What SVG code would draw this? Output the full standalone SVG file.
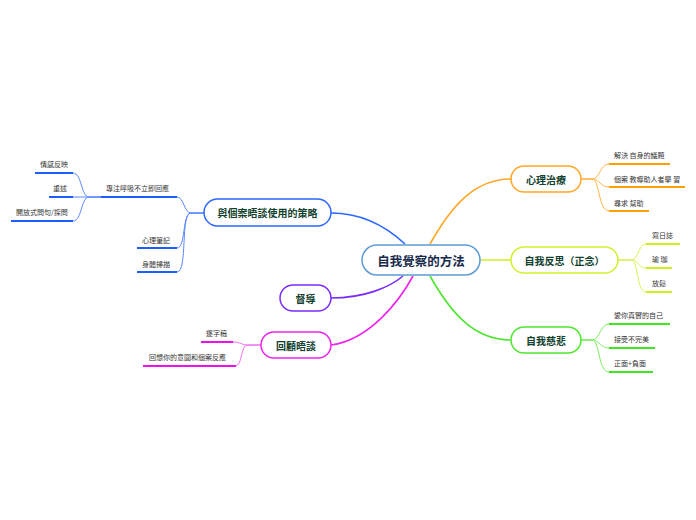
<svg xmlns="http://www.w3.org/2000/svg" width="696" height="520" viewBox="0 0 696 520">
<style>
.n{fill:#fff;stroke-width:1.5}
.t{font-family:"Noto Sans CJK TC","Noto Sans CJK SC",sans-serif;font-size:10px;font-weight:bold;fill:#123f2e;text-anchor:middle;dominant-baseline:central}
.c{font-family:"Noto Sans CJK TC","Noto Sans CJK SC",sans-serif;font-size:7px;fill:#333;dominant-baseline:central}
.m{fill:none;stroke-width:1.6}
.b{fill:none;stroke-width:1}
.u{stroke-width:2}
</style>
<rect width="696" height="520" fill="#fff"/>
<g id="connectors">
  <!-- main -->
  <path class="m" stroke="#ffa726" d="M430,244 C452,205 475,179 511,179"/>
  <path class="m" stroke="#d4f02c" d="M480,260 L511,260"/>
  <path class="m" stroke="#4ce62e" d="M430,276 C452,315 475,340 511,340"/>
  <path class="m" stroke="#2a66ff" d="M331,213 C365,213 390,230 405,244"/>
  <path class="m" stroke="#7a2bff" d="M331,298 C365,298 390,287 403,276"/>
  <path class="m" stroke="#ee22ee" d="M331,345 C370,340 400,300 413,276"/>
  <!-- 心理治療 branches -->
  <g stroke="#ffb54d">
    <path class="b" d="M581,179 L592,179 C600,179 600,164 609,164"/>
    <path class="b" d="M581,179 L592,179 C600,179 600,187 609,187"/>
    <path class="b" d="M581,179 L592,179 C600,179 598,211 609,211"/>
  </g>
  <g stroke="#ffa000" class="u">
    <line x1="609" y1="164" x2="670" y2="164"/>
    <line x1="609" y1="187" x2="685" y2="187"/>
    <line x1="609" y1="211" x2="649" y2="211"/>
  </g>
  <!-- 自我反思 branches -->
  <g stroke="#dcf25a">
    <path class="b" d="M618,260 L631,260 C639,260 638,244 646,244"/>
    <path class="b" d="M618,260 L631,260 C639,260 638,268 646,268"/>
    <path class="b" d="M618,260 L631,260 C639,260 636,292 646,292"/>
  </g>
  <g stroke="#d0ee20" class="u">
    <line x1="646" y1="244" x2="680" y2="244"/>
    <line x1="646" y1="268" x2="672" y2="268"/>
    <line x1="646" y1="292" x2="672" y2="292"/>
  </g>
  <!-- 自我慈悲 branches -->
  <g stroke="#7cf060">
    <path class="b" d="M581,340 L592,340 C600,340 600,324 609,324"/>
    <path class="b" d="M581,340 L592,340 C600,340 600,348 609,348"/>
    <path class="b" d="M581,340 L592,340 C600,340 598,372 609,372"/>
  </g>
  <g stroke="#3ee620" class="u">
    <line x1="609" y1="324" x2="670" y2="324"/>
    <line x1="609" y1="348" x2="655" y2="348"/>
    <line x1="609" y1="372" x2="653" y2="372"/>
  </g>
  <!-- 策略 branches -->
  <g stroke="#5a88ff">
    <path class="b" d="M204,213 L191,213 C184,213 184,197 177,197"/>
    <path class="b" d="M204,213 L191,213 C182,213 186,248 177,248"/>
    <path class="b" d="M204,213 L191,213 C180,213 188,272 177,272"/>
    <path class="b" d="M101,197 L89,197 C81,197 82,173 73,173"/>
    <path class="b" d="M101,197 L73,197"/>
    <path class="b" d="M101,197 L89,197 C81,197 82,221 73,221"/>
  </g>
  <g stroke="#1f5cff" class="u">
    <line x1="101" y1="197" x2="177" y2="197"/>
    <line x1="137" y1="248" x2="177" y2="248"/>
    <line x1="137" y1="272" x2="177" y2="272"/>
    <line x1="35" y1="173" x2="73" y2="173"/>
    <line x1="49" y1="197" x2="73" y2="197"/>
    <line x1="11" y1="221" x2="73" y2="221"/>
  </g>
  <!-- 回顧晤談 branches -->
  <g stroke="#f070f0">
    <path class="b" d="M261,345 L248,345 C241,345 241,342 233,342"/>
    <path class="b" d="M261,345 L248,345 C240,345 243,366 235,366"/>
  </g>
  <g stroke="#ee11ee" class="u">
    <line x1="201" y1="342" x2="233" y2="342"/>
    <line x1="143" y1="366" x2="236" y2="366"/>
  </g>
</g>
<g id="center">
  <rect x="362" y="245" width="118" height="30" rx="15" class="n" stroke="#5b9bd5"/>
  <text x="421" y="260" class="t" style="font-size:12.5px;fill:#17294a">自我覺察的方法</text>
</g>
<g id="n-psy">
  <rect x="511" y="166" width="70" height="26" rx="13" class="n" stroke="#ffa726"/>
  <text x="546" y="179" class="t">心理治療</text>
</g>
<g id="n-psy-1"><text x="614" y="155" class="c">解決 自身的議題</text></g>
<g id="n-psy-2"><text x="614" y="179" class="c">個案 教導助人者學 習</text></g>
<g id="n-psy-3"><text x="614" y="203" class="c">尋求 幫助</text></g>
<g id="n-ref">
  <rect x="511" y="247" width="107" height="26" rx="13" class="n" stroke="#d4f02c"/>
  <text x="564.5" y="260" class="t">自我反思（正念）</text>
</g>
<g id="n-ref-1"><text x="652" y="235" class="c">寫日誌</text></g>
<g id="n-ref-2"><text x="652" y="259" class="c">瑜 珈</text></g>
<g id="n-ref-3"><text x="652" y="283" class="c">放鬆</text></g>
<g id="n-comp">
  <rect x="511" y="327" width="70" height="26" rx="13" class="n" stroke="#4ce62e"/>
  <text x="546" y="340" class="t">自我慈悲</text>
</g>
<g id="n-comp-1"><text x="614" y="315" class="c">愛你真實的自己</text></g>
<g id="n-comp-2"><text x="614" y="339" class="c">接受不完美</text></g>
<g id="n-comp-3"><text x="614" y="363" class="c">正面+負面</text></g>
<g id="n-str">
  <rect x="204" y="199" width="127" height="27" rx="13.5" class="n" stroke="#2a66ff"/>
  <text x="267.5" y="212.5" class="t">與個案晤談使用的策略</text>
</g>
<g id="n-str-1"><text x="106" y="188" class="c">專注呼吸不立即回應</text></g>
<g id="n-str-1a"><text x="40" y="164" class="c">情感反映</text></g>
<g id="n-str-1b"><text x="53" y="188" class="c">重述</text></g>
<g id="n-str-1c"><text x="16" y="212" class="c">開放式問句/探問</text></g>
<g id="n-str-2"><text x="142" y="240" class="c">心理筆記</text></g>
<g id="n-str-3"><text x="142" y="264" class="c">身體掃描</text></g>
<g id="n-sup">
  <rect x="280" y="285" width="51" height="26" rx="13" class="n" stroke="#7a2bff"/>
  <text x="305.5" y="298" class="t">督導</text>
</g>
<g id="n-rev">
  <rect x="261" y="332" width="70" height="26" rx="13" class="n" stroke="#ee22ee"/>
  <text x="296" y="345" class="t">回顧晤談</text>
</g>
<g id="n-rev-1"><text x="206" y="333" class="c">逐字稿</text></g>
<g id="n-rev-2"><text x="149" y="357" class="c">回想你的意圖和個案反應</text></g>
</svg>
